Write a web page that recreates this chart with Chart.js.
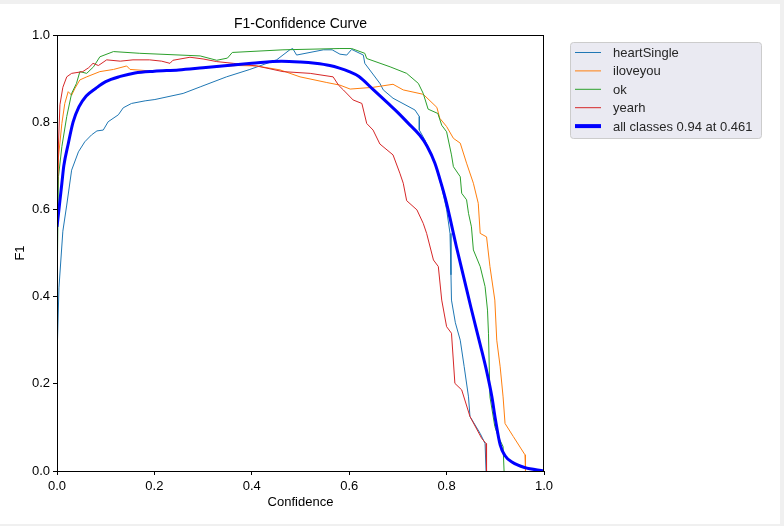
<!DOCTYPE html>
<html>
<head>
<meta charset="utf-8">
<script src="https://cdn.jsdelivr.net/npm/chart.js@4.4.0/dist/chart.umd.min.js"></script>
<style>
  html, body { margin: 0; padding: 0; background: #f0f0f0; }
  #wrap { position: absolute; left: 0; top: 0; width: 784px; height: 526px; }
</style>
</head>
<body>
<div id="wrap"><canvas id="myChart" width="784" height="526"></canvas></div>
<script>
// values
var classNames = ["heartSingle", "iloveyou", "ok", "yearh", "all classes 0.94 at 0.461"];
var tickLabels = [0.0, 0.2, 0.4, 0.6, 0.8, 1.0];

var heartSingleX = [0, 0.004, 0.012, 0.02, 0.03, 0.044, 0.057, 0.071, 0.082, 0.095, 0.105, 0.126, 0.136, 0.153, 0.181, 0.201, 0.259, 0.294, 0.348, 0.396, 0.451, 0.478, 0.484, 0.492, 0.547, 0.565, 0.581, 0.595, 0.605, 0.629, 0.632, 0.663, 0.67, 0.69, 0.735, 0.744, 0.744, 0.755, 0.775, 0.79, 0.80, 0.807, 0.809, 0.81, 0.818, 0.828, 0.836, 0.845, 0.848, 0.869, 0.879, 0.881];
var heartSingleY = [0.26, 0.42, 0.55, 0.61, 0.69, 0.732, 0.755, 0.771, 0.78, 0.782, 0.801, 0.817, 0.833, 0.843, 0.849, 0.852, 0.866, 0.881, 0.904, 0.921, 0.943, 0.966, 0.969, 0.954, 0.966, 0.966, 0.956, 0.954, 0.967, 0.954, 0.935, 0.889, 0.874, 0.855, 0.828, 0.813, 0.782, 0.76, 0.71, 0.65, 0.60, 0.545, 0.45, 0.392, 0.34, 0.30, 0.24, 0.17, 0.125, 0.086, 0.063, 0];

var iloveyouX = [0, 0.003, 0.01, 0.016, 0.023, 0.03, 0.037, 0.047, 0.061, 0.088, 0.116, 0.143, 0.15, 0.2, 0.3, 0.37, 0.41, 0.458, 0.499, 0.554, 0.581, 0.602, 0.649, 0.69, 0.711, 0.752, 0.78, 0.786, 0.80, 0.814, 0.828, 0.841, 0.855, 0.865, 0.869, 0.882, 0.889, 0.899, 0.903, 0.91, 0.916, 0.92, 0.937, 0.961, 0.962];
var iloveyouY = [0.60, 0.72, 0.797, 0.843, 0.87, 0.862, 0.878, 0.897, 0.904, 0.916, 0.921, 0.929, 0.921, 0.917, 0.925, 0.93, 0.929, 0.92, 0.904, 0.891, 0.885, 0.876, 0.88, 0.887, 0.874, 0.864, 0.834, 0.809, 0.79, 0.763, 0.752, 0.706, 0.66, 0.614, 0.545, 0.537, 0.469, 0.392, 0.30, 0.239, 0.17, 0.109, 0.079, 0.037, 0];

var okX = [0, 0.003, 0.01, 0.02, 0.03, 0.04, 0.047, 0.061, 0.075, 0.088, 0.116, 0.17, 0.294, 0.328, 0.35, 0.36, 0.464, 0.581, 0.605, 0.632, 0.636, 0.684, 0.718, 0.742, 0.752, 0.762, 0.782, 0.79, 0.80, 0.81, 0.814, 0.828, 0.831, 0.841, 0.845, 0.851, 0.855, 0.869, 0.879, 0.884, 0.886, 0.889, 0.899, 0.906, 0.916, 0.918];
var okY = [0.40, 0.675, 0.744, 0.813, 0.866, 0.889, 0.916, 0.912, 0.927, 0.95, 0.962, 0.958, 0.952, 0.942, 0.947, 0.96, 0.966, 0.969, 0.969, 0.958, 0.946, 0.927, 0.912, 0.889, 0.866, 0.83, 0.82, 0.793, 0.778, 0.725, 0.698, 0.675, 0.637, 0.622, 0.591, 0.56, 0.507, 0.469, 0.423, 0.369, 0.316, 0.17, 0.102, 0.079, 0.056, 0];

var yearhX = [0, 0.003, 0.006, 0.012, 0.02, 0.03, 0.053, 0.065, 0.074, 0.085, 0.102, 0.13, 0.156, 0.19, 0.215, 0.232, 0.238, 0.273, 0.3, 0.328, 0.362, 0.41, 0.464, 0.52, 0.567, 0.578, 0.588, 0.608, 0.626, 0.636, 0.649, 0.663, 0.69, 0.704, 0.711, 0.718, 0.739, 0.752, 0.759, 0.773, 0.783, 0.79, 0.80, 0.81, 0.817, 0.831, 0.848, 0.872, 0.881, 0.882];
var yearhY = [0.58, 0.75, 0.84, 0.88, 0.904, 0.912, 0.916, 0.925, 0.935, 0.93, 0.943, 0.94, 0.943, 0.943, 0.94, 0.935, 0.942, 0.949, 0.945, 0.939, 0.935, 0.929, 0.916, 0.912, 0.904, 0.885, 0.874, 0.851, 0.843, 0.797, 0.782, 0.75, 0.725, 0.683, 0.66, 0.62, 0.599, 0.568, 0.545, 0.484, 0.469, 0.392, 0.331, 0.316, 0.201, 0.186, 0.125, 0.075, 0.063, 0];

var allX = [0, 0.006, 0.01, 0.014, 0.023, 0.033, 0.045, 0.06, 0.08, 0.1, 0.13, 0.16, 0.2, 0.25, 0.3, 0.35, 0.4, 0.461, 0.5, 0.53, 0.56, 0.58, 0.6, 0.62, 0.65, 0.68, 0.7, 0.72, 0.745, 0.76, 0.776, 0.79, 0.80, 0.81, 0.82, 0.834, 0.85, 0.869, 0.883, 0.893, 0.9, 0.91, 0.92, 0.935, 0.96, 1.0];
var allY = [0.56, 0.62, 0.66, 0.70, 0.75, 0.80, 0.835, 0.86, 0.878, 0.893, 0.905, 0.913, 0.917, 0.92, 0.925, 0.93, 0.935, 0.94, 0.938, 0.935, 0.93, 0.924, 0.916, 0.905, 0.874, 0.843, 0.822, 0.799, 0.77, 0.745, 0.706, 0.655, 0.614, 0.565, 0.515, 0.45, 0.375, 0.29, 0.225, 0.17, 0.12, 0.06, 0.035, 0.02, 0.008, 0];

var colors = ["#1f77b4", "#ff7f0e", "#2ca02c", "#d62728", "#0000ff"];
var fontFamily = "'Liberation Sans', Arial, sans-serif";

function toPoints(xs, ys) {
  var pts = [];
  for (var i = 0; i < xs.length; i++) {
    pts.push({x: xs[i], y: ys[i]});
  }
  return pts;
}

function makeSet(i, xs, ys, width, order) {
  return {
    label: classNames[i],
    data: toPoints(xs, ys),
    borderColor: colors[i],
    backgroundColor: colors[i],
    borderWidth: width,
    pointRadius: 0,
    tension: 0,
    fill: false,
    order: order
  };
}

// background, frame, title, axis titles and the legend box
var decor = {
  id: "decor",
  beforeDraw: function(chart) {
    var c = chart.ctx;
    c.save();
    c.fillStyle = "#f0f0f0";
    c.fillRect(0, 0, chart.width, chart.height);
    c.fillStyle = "#ffffff";
    c.fillRect(0, 4, 780, 520);
    c.restore();
  },
  afterDraw: function(chart) {
    var c = chart.ctx;
    var a = chart.chartArea;
    c.save();
    c.strokeStyle = "#000";
    c.lineWidth = 1;
    c.strokeRect(Math.round(a.left) + 0.5, Math.round(a.top) + 0.5, Math.round(a.right - a.left) - 1, Math.round(a.bottom - a.top));

    c.fillStyle = "#000";
    c.textAlign = "center";
    c.textBaseline = "alphabetic";
    c.font = "14px " + fontFamily;
    c.fillText("F1-Confidence Curve", (a.left + a.right) / 2, 28);
    c.font = "13px " + fontFamily;
    c.fillText("Confidence", (a.left + a.right) / 2, 506);
    c.save();
    c.translate(24, (a.top + a.bottom) / 2);
    c.rotate(-Math.PI / 2);
    c.fillText("F1", 0, 0);
    c.restore();

    // legend
    var bx = 570.5, by = 42.5, bw = 191, bh = 96;
    c.beginPath();
    c.roundRect(bx, by, bw, bh, 3);
    c.fillStyle = "#eaeaf2";
    c.fill();
    c.strokeStyle = "#cccccc";
    c.stroke();
    c.textAlign = "left";
    c.textBaseline = "middle";
    for (var i = 0; i < classNames.length; i++) {
      var ly = 52.5 + i * 18.4;
      c.beginPath();
      c.moveTo(575, ly);
      c.lineTo(601, ly);
      c.strokeStyle = colors[i];
      c.lineWidth = i == 4 ? 4 : 1;
      c.stroke();
      c.fillStyle = "#262626";
      c.fillText(classNames[i], 613, ly + 1);
    }
    c.restore();
  }
};

var tickOpts = {
  color: "#000",
  font: { family: fontFamily, size: 13 },
  callback: function(v) { return tickLabels.indexOf(Math.round(v * 10) / 10) >= 0 ? v.toFixed(1) : ""; }
};

var allSet = makeSet(4, allX, allY, 3, 0);
allSet.cubicInterpolationMode = "monotone";

var ctx = document.getElementById("myChart").getContext("2d");
var chart = new Chart(ctx, {
  type: "line",
  data: {
    datasets: [
      makeSet(0, heartSingleX, heartSingleY, 1, 4),
      makeSet(1, iloveyouX, iloveyouY, 1, 3),
      makeSet(2, okX, okY, 1, 2),
      makeSet(3, yearhX, yearhY, 1, 1),
      allSet
    ]
  },
  options: {
    responsive: false,
    animation: false,
    layout: { padding: { left: 0, top: 35, right: 784 - 544, bottom: 0 } },
    plugins: { legend: { display: false }, title: { display: false }, tooltip: { enabled: false } },
    scales: {
      x: {
        type: "linear",
        min: 0,
        max: 1,
        ticks: Object.assign({ stepSize: 0.2, padding: 4, maxRotation: 0 }, tickOpts),
        grid: { drawOnChartArea: false, drawTicks: true, tickLength: 4, color: "#000" },
        border: { color: "#000" },
        afterFit: function(scale) { scale.height = 526 - 471; }
      },
      y: {
        min: 0,
        max: 1,
        ticks: Object.assign({ stepSize: 0.2, padding: 3 }, tickOpts),
        grid: { drawOnChartArea: false, drawTicks: true, tickLength: 4, color: "#000" },
        border: { color: "#000" },
        afterFit: function(scale) { scale.width = 57; }
      }
    }
  },
  plugins: [decor]
});
</script>
</body>
</html>
